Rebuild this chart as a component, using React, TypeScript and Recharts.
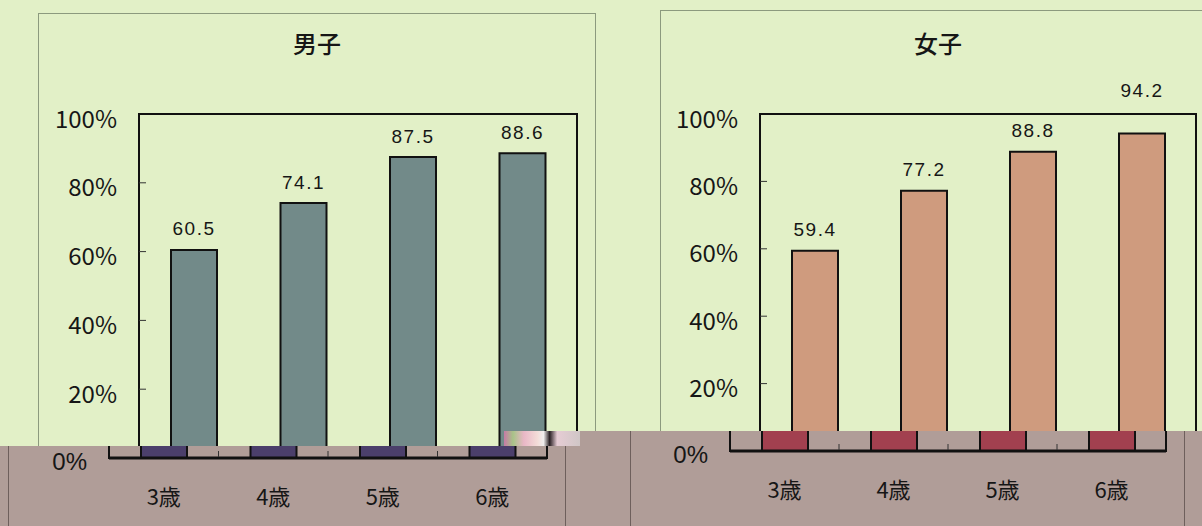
import { FC } from 'react';
import { Bar, BarChart, LabelList, ReferenceArea, XAxis, YAxis } from 'recharts';

const ages = ['3歳', '4歳', '5歳', '6歳'];
const boys = [60.5, 74.1, 87.5, 88.6];
const girls = [59.4, 77.2, 88.8, 94.2];
const yTicks = [0, 20, 40, 60, 80, 100];

const boysData = ages.map((age, i) => ({ age, value: boys[i] }));
const girlsData = ages.map((age, i) => ({ age, value: girls[i] }));

const INK = '#161616';
const NARROW = "'Liberation Sans Narrow', 'Noto Sans CJK JP', sans-serif";
const SANS = "'Liberation Sans', Arial, sans-serif";

// which texts a copy of the scene draws
type Mode = 'top' | 'band' | 'none';

interface Palette {
  bg: string;
  frame: string;
  boys: string;
  girls: string;
}

const topColors: Palette = { bg: '#e2f0c7', frame: '#8c9a7e', boys: '#728a89', girls: '#cf9b7e' };
const bandColors: Palette = { bg: '#b09d98', frame: '#6e5f5c', boys: '#4b3f6b', girls: '#a2404f' };

// y labels: outside, ticks point into the plot
const YTick = (props: any) => {
  const { x, y, payload, mode } = props;
  const ax = x + 22;
  const v = payload.value;
  const showText = mode === 'band' ? v === 0 : mode === 'top' && v > 0;
  return (
    <g>
      {v > 0 && v < 100 && <line x1={ax} x2={ax + 7} y1={y} y2={y} stroke="#333" strokeWidth={1} />}
      {showText && (
        <text
          x={x}
          y={y + 3}
          textAnchor='end'
          dominantBaseline='central'
          fontSize={24}
          fontFamily={v === 0 ? SANS : NARROW}
          fill={INK}
        >
          {v}%
        </text>
      )}
    </g>
  );
};

// category labels below, small ticks on the category boundaries
const XTick = (props: any) => {
  const { x, y, payload, index, mode } = props;
  const half = payload.offset ?? 54.5;
  return (
    <g>
      {index < ages.length - 1 && (
        <line x1={x + half} x2={x + half} y1={y - 1} y2={y - 7} stroke="#333" strokeWidth={1} />
      )}
      {mode === 'band' && (
        <text x={x} y={y + 37} textAnchor='middle' dominantBaseline='central' fontSize={22} fontFamily={NARROW} fill={INK}>
          {payload.value}
        </text>
      )}
    </g>
  );
};

// labels that would hit the frame are lifted above it
const valueLabel = (plotTop: number) => (props: any) => {
  const { x, y, width, value } = props;
  let cy = y - 21;
  if (cy - 10 < plotTop + 2) cy = plotTop - 24;
  return (
    <text
      x={x + width / 2}
      y={cy}
      textAnchor='middle'
      dominantBaseline='central'
      fontSize={19}
      letterSpacing={1.5}
      fontFamily={SANS}
      fill={INK}
    >
      {value}
    </text>
  );
};

interface PanelProps {
  left: number;
  width: number;
  marginRight: number;
  marginBottom: number;
  yAxisWidth: number;
  data: { age: string; value: number }[];
  fill: string;
  mode: Mode;
}

const PLOT_TOP = 114;

const Panel: FC<PanelProps> = ({ left, width, marginRight, marginBottom, yAxisWidth, data, fill, mode }) => (
  <div style={{ position: 'absolute', left, top: 0 }}>
    <BarChart
      width={width}
      height={526}
      data={data}
      margin={{ top: PLOT_TOP, right: marginRight, bottom: marginBottom, left: 0 }}
      barCategoryGap={0}
    >
      <XAxis
        dataKey='age'
        height={60}
        tickLine={false}
        tickSize={0}
        tickMargin={0}
        axisLine={{ stroke: '#111', strokeWidth: 3 }}
        tick={<XTick mode={mode} />}
        interval={0}
      />
      <YAxis
        width={yAxisWidth}
        domain={[0, 100]}
        ticks={yTicks}
        axisLine={false}
        tickLine={false}
        tickSize={0}
        tickMargin={22}
        tick={<YTick mode={mode} />}
        interval={0}
      />
      <ReferenceArea y1={0} y2={100} fill='none' fillOpacity={0} stroke='#111' strokeWidth={2} />
      <Bar dataKey='value' fill={fill} stroke='#111' strokeWidth={2} barSize={46} isAnimationActive={false}>
        {mode === 'top' && <LabelList dataKey='value' content={valueLabel(PLOT_TOP)} />}
      </Bar>
    </BarChart>
  </div>
);

const Title: FC<{ cx: number; text: string }> = ({ cx, text }) => (
  <div
    style={{
      position: 'absolute',
      left: cx - 60,
      top: 28,
      width: 120,
      textAlign: 'center',
      fontSize: 24,
      lineHeight: '30px',
      fontFamily: "'Noto Sans CJK JP', sans-serif",
      fontWeight: 500,
      color: INK,
    }}
  >
    {text}
  </div>
);

interface SceneProps {
  p: Palette;
  x: number;
  y: number;
  textL: Mode;
  textR: Mode;
}

const Scene: FC<SceneProps> = ({ p, x, y, textL, textR }) => (
  <div style={{ position: 'absolute', left: x, top: y, width: 1240, height: 526, background: p.bg }}>
    <div style={{ position: 'absolute', left: 38, top: 13, width: 556, height: 600, border: `1px solid ${p.frame}` }} />
    <div style={{ position: 'absolute', left: 660, top: 10, width: 553, height: 600, border: `1px solid ${p.frame}` }} />
    {textL === 'top' && <Title cx={317} text='男子' />}
    {textR === 'top' && <Title cx={938} text='女子' />}
    <Panel left={0} width={600} marginRight={23} marginBottom={8} yAxisWidth={139} data={boysData} fill={p.boys} mode={textL} />
    <Panel left={600} width={640} marginRight={44} marginBottom={15} yAxisWidth={160} data={girlsData} fill={p.girls} mode={textR} />
  </div>
);

const App: FC = () => (
  <div style={{ position: 'absolute', left: 0, top: 0, width: 1202, height: 526, overflow: 'hidden' }}>
    <Scene p={topColors} x={0} y={0} textL='top' textR='top' />
    {/* scan band: the lower strip is shifted 30px left and tinted */}
    <div style={{ position: 'absolute', left: 0, top: 446, width: 580, height: 80, overflow: 'hidden' }}>
      <Scene p={bandColors} x={-30} y={-446} textL='band' textR='none' />
    </div>
    <div style={{ position: 'absolute', left: 580, top: 431, width: 622, height: 95, overflow: 'hidden' }}>
      <Scene p={bandColors} x={-610} y={-431} textL='none' textR='band' />
    </div>
    <div
      style={{
        position: 'absolute',
        left: 504,
        top: 431,
        width: 76,
        height: 15,
        background:
          'linear-gradient(90deg, #c77aa6 0%, #a8c488 12%, #e9b7c6 26%, #f3dcd8 44%, #f0eeee 52%, #2a2024 60%, #e6ccd4 70%, #cfc6c6 100%)',
      }}
    />
  </div>
);

export default App;
